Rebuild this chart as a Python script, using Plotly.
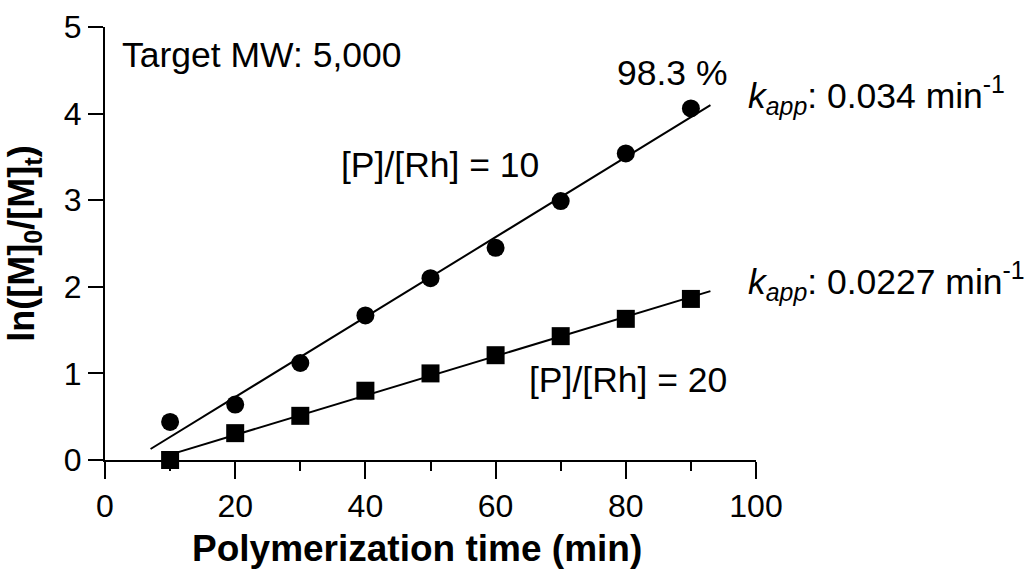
import numpy as np
import plotly.graph_objects as go

# ---- data ----
time_min = [10, 20, 30, 40, 50, 60, 70, 80, 90]
ln_ratio_P10 = [0.44, 0.64, 1.12, 1.67, 2.10, 2.45, 2.99, 3.54, 4.06]
ln_ratio_P20 = [0.00, 0.31, 0.51, 0.80, 1.00, 1.21, 1.43, 1.63, 1.86]

x_ticks = [0, 20, 40, 60, 80, 100]
y_ticks = [0, 1, 2, 3, 4, 5]

fit_range_P10 = [7, 93]
fit_range_P20 = [10, 93]

FONT = "Liberation Sans, Arial, sans-serif"

# linear fits from the data
s10, b10 = np.polyfit(time_min, ln_ratio_P10, 1)
s20, b20 = np.polyfit(time_min, ln_ratio_P20, 1)
fx10 = np.array(fit_range_P10, dtype=float)
fx20 = np.array(fit_range_P20, dtype=float)

fig = go.Figure()
fig.add_trace(go.Scatter(x=fx10, y=s10 * fx10 + b10, mode="lines",
                         line=dict(color="black", width=2), showlegend=False, hoverinfo="skip"))
fig.add_trace(go.Scatter(x=fx20, y=s20 * fx20 + b20, mode="lines",
                         line=dict(color="black", width=2), showlegend=False, hoverinfo="skip"))
fig.add_trace(go.Scatter(x=time_min, y=ln_ratio_P10, mode="markers", name="[P]/[Rh] = 10",
                         marker=dict(symbol="circle", size=18, color="black"),
                         cliponaxis=False, showlegend=False))
fig.add_trace(go.Scatter(x=time_min, y=ln_ratio_P20, mode="markers", name="[P]/[Rh] = 20",
                         marker=dict(symbol="square", size=18, color="black"),
                         cliponaxis=False, showlegend=False))

ann_font = dict(family=FONT, size=35.5, color="black")
annotations = [
    dict(text="Target MW: 5,000", x=2.3, y=4.68, xanchor="left", yanchor="middle"),
    dict(text="98.3 %", x=87.1, y=4.47, xanchor="center", yanchor="middle"),
    dict(text="<i>k</i><sub><i>app</i></sub>: 0.034 min<sup>-1</sup>", x=98.4, y=4.21,
         xanchor="left", yanchor="middle"),
    dict(text="<i>k</i><sub><i>app</i></sub>: 0.0227 min<sup>-1</sup>", x=98.4, y=2.06,
         xanchor="left", yanchor="middle"),
    dict(text="[P]/[Rh] = 10", x=51.5, y=3.41, xanchor="center", yanchor="middle"),
    dict(text="[P]/[Rh] = 20", x=80.3, y=0.92, xanchor="center", yanchor="middle"),
]
for a in annotations:
    a.update(xref="x", yref="y", showarrow=False, font=ann_font)

# x-axis title (placed as an annotation so it sits where the reference has it)
annotations.append(dict(text="<b>Polymerization time (min)</b>", x=48.0, xref="x",
                        y=-0.205, yref="paper", xanchor="center", yanchor="middle",
                        showarrow=False, font=dict(family=FONT, size=37, color="black")))

fig.update_layout(
    width=1034, height=571,
    margin=dict(l=105, r=278, t=27, b=111, autoexpand=False),
    paper_bgcolor="white", plot_bgcolor="white",
    font=dict(family=FONT, color="black"),
    annotations=annotations,
    showlegend=False,
    xaxis=dict(
        range=[0, 100], tickvals=x_ticks, ticks="outside", ticklen=17, tickwidth=2,
        tickcolor="black", showline=True, linecolor="black", linewidth=2,
        showgrid=False, zeroline=False, automargin=False,
        tickfont=dict(family=FONT, size=32, color="black"),
        minor=dict(dtick=10, ticks="outside", ticklen=9, tickwidth=2, tickcolor="black", showgrid=False),
    ),
    yaxis=dict(
        range=[0, 5], tickvals=y_ticks, ticks="outside", ticklen=15, tickwidth=2,
        tickcolor="black", showline=True, linecolor="black", linewidth=2,
        showgrid=False, zeroline=False, automargin=False,
        tickfont=dict(family=FONT, size=32, color="black"),
        title=dict(text="<b>ln([M]<sub>0</sub>/[M]<sub>t</sub>)</b>", standoff=18,
                   font=dict(family=FONT, size=36, color="black")),
    ),
)

fig.write_html("out.html")
